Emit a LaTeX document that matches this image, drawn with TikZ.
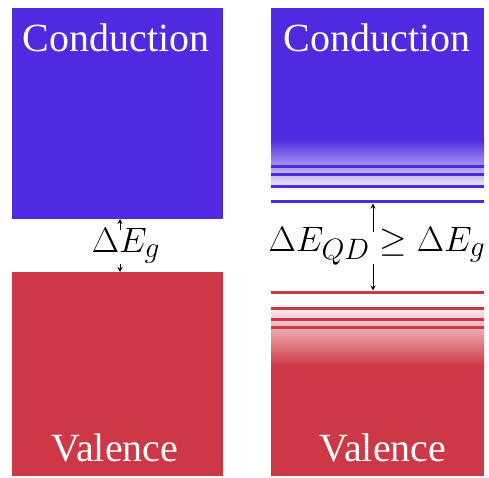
\documentclass[tikz,border=0pt]{standalone}
\usepackage{fontspec}
\setmainfont{Liberation Serif}
\usetikzlibrary{arrows.meta}
\definecolor{cband}{RGB}{80,42,224}
\definecolor{vband}{RGB}{206,56,70}
\begin{document}
\begin{tikzpicture}[x=1pt,y=-1pt,
  lbl/.style={text=white,font=\fontsize{40}{40}\selectfont,inner sep=0pt},
  gaplbl/.style={font=\Huge,scale=1.42,inner sep=0pt},
  lvl/.style={line width=3pt},
  gaparrow/.style={-{Stealth[length=5pt,width=5pt]},line width=0.9pt}]
\useasboundingbox (0,0) rectangle (489,478);
% left bands
\fill[cband] (12,8) rectangle (223,219);
\fill[vband] (12,272) rectangle (223,476);
\coordinate (lct) at (120,219);
\coordinate (lvb) at (120,272);
\node[lbl] (lc) at (116,38) {Conduction};
\node[lbl] (lv) at (115,448) {Valence};
\node[gaplbl] (lg) at (126,246) {$\Delta E_g$};
\coordinate (lga) at (120,230);
\coordinate (lgb) at (120,264);
\draw[gaparrow] (lga) -- (lct);
\draw[gaparrow] (lgb) -- (lvb);
% right conduction
\fill[cband] (271,8) rectangle (484,140);
\shade[top color=cband,bottom color=white] (271,139.5) rectangle (484,192);
\draw[lvl,cband] (271,167) -- (484,167);
\draw[lvl,cband] (271,175) -- (484,175);
\draw[lvl,cband] (271,187) -- (484,187);
\draw[lvl,cband] (271,202) -- (484,202);
% right valence
\shade[top color=white,bottom color=vband] (271,302) rectangle (484,366);
\fill[vband] (271,365.5) rectangle (484,476);
\draw[lvl,vband] (271,292) -- (484,292);
\draw[lvl,vband] (271,308) -- (484,308);
\draw[lvl,vband] (271,319) -- (484,319);
\draw[lvl,vband] (271,327) -- (484,327);
\coordinate (rct) at (373,203.5);
\coordinate (rvb) at (373,290.5);
\node[lbl] (rc) at (377,38) {Conduction};
\node[lbl] (rv) at (383,448) {Valence};
\node[gaplbl] (rg) at (377,246) {$\Delta E_{QD}\geq\Delta E_g$};
\coordinate (rga) at (373,232);
\coordinate (rgb) at (373,264);
\draw[gaparrow] (rga) -- (rct);
\draw[gaparrow] (rgb) -- (rvb);
\end{tikzpicture}
\end{document}
